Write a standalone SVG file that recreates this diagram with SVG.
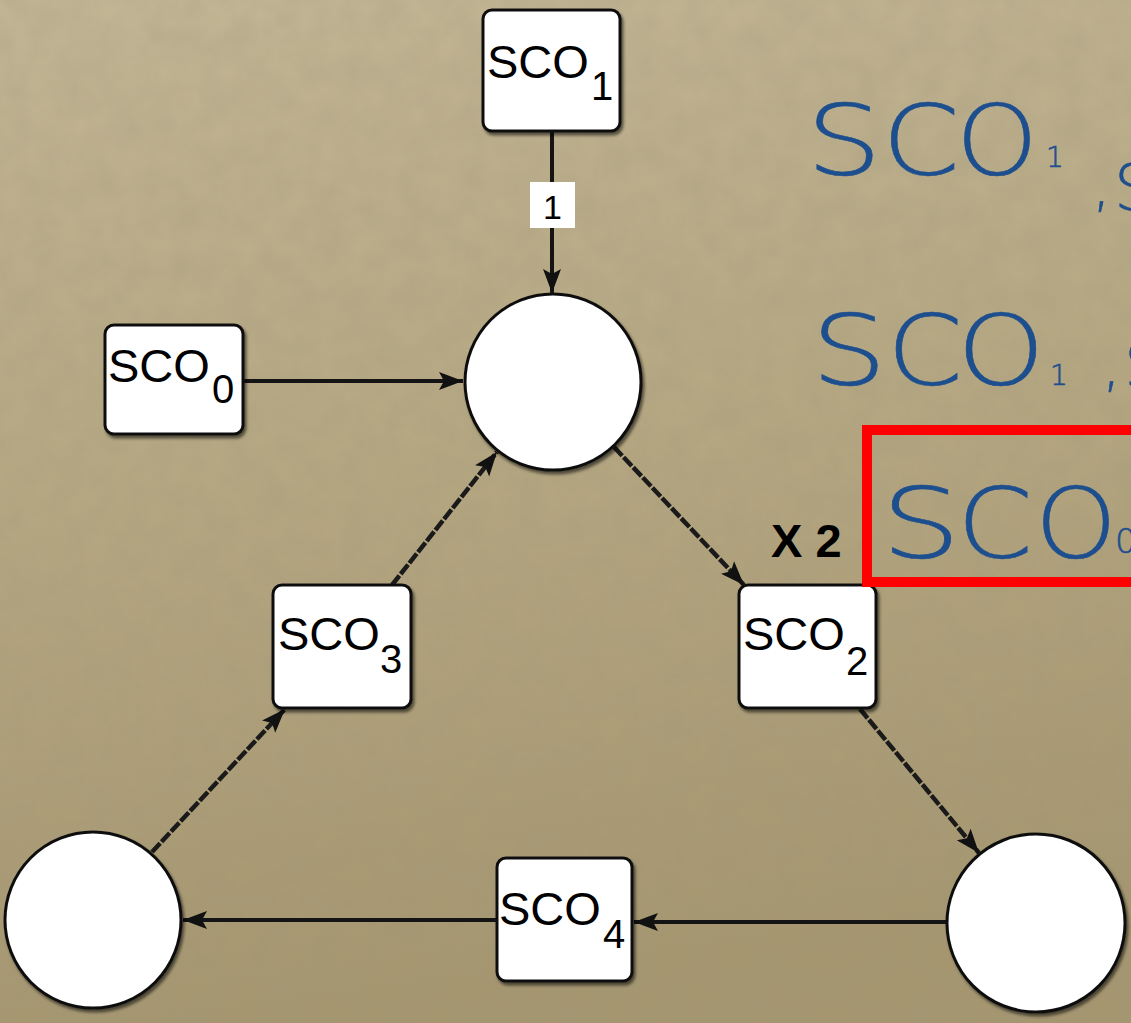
<svg xmlns="http://www.w3.org/2000/svg" width="1131" height="1023" viewBox="0 0 1131 1023">
  <style>
    .box { fill: #ffffff; stroke: #111111; stroke-width: 3; }
    .place { fill: #ffffff; stroke: #111111; stroke-width: 3; }
    .lbl { font-family: "Liberation Sans", Arial, sans-serif; font-size: 47px; fill: #000000; }
    .sub { font-family: "Liberation Sans", Arial, sans-serif; font-size: 40px; fill: #000000; }
    .edge { stroke: #141414; stroke-width: 4; fill: none; }
    .rough { stroke: #1a1a1a; stroke-width: 4.5; fill: none; stroke-dasharray: 12 2; }
    .hand { font-family: "DejaVu Sans", "Lato", sans-serif; font-weight: 200; fill: #1d4e8e; stroke: #1d4e8e; stroke-width: 0.6; }
    .big { font-size: 98px; }
  </style>
  <defs>
    <linearGradient id="paper" x1="0" y1="0" x2="0.15" y2="1">
      <stop offset="0" stop-color="#c3b695"/>
      <stop offset="0.5" stop-color="#b5a781"/>
      <stop offset="1" stop-color="#a5966f"/>
    </linearGradient>
    <filter id="grain" x="0" y="0" width="100%" height="100%">
      <feTurbulence type="fractalNoise" baseFrequency="0.035" numOctaves="3" seed="7" result="n"/>
      <feColorMatrix in="n" type="matrix" values="0 0 0 0 0.35  0 0 0 0 0.3  0 0 0 0 0.2  0 0 0 0.35 -0.05"/>
    </filter>
    <filter id="shade" x="-20%" y="-20%" width="150%" height="150%">
      <feDropShadow dx="2" dy="3" stdDeviation="1.5" flood-color="#000000" flood-opacity="0.55"/>
    </filter>
    <marker id="head" markerUnits="userSpaceOnUse" markerWidth="26" markerHeight="20" refX="24" refY="10" orient="auto">
      <path d="M0,1 L24,10 L0,19 L5,10 z" fill="#111111"/>
    </marker>
  </defs>

  <!-- paper background -->
  <rect width="1131" height="1023" fill="url(#paper)"/>
  <rect width="1131" height="1023" filter="url(#grain)"/>

  <!-- arcs of the net -->
  <g id="connectors">
    <line class="edge" x1="552" y1="131" x2="552" y2="293" marker-end="url(#head)"/>
    <g id="weight-1">
      <rect x="530" y="182" width="45" height="46" fill="#ffffff"/>
      <text x="552.5" y="219" text-anchor="middle" font-family="Liberation Sans, Arial, sans-serif" font-size="34">1</text>
    </g>
    <line class="edge" x1="244" y1="381" x2="463" y2="381" marker-end="url(#head)"/>
    <line class="rough" x1="614" y1="447" x2="744" y2="585" marker-end="url(#head)"/>
    <line class="rough" x1="860" y1="709" x2="979" y2="853" marker-end="url(#head)"/>
    <line class="edge" x1="946" y1="922" x2="634" y2="922" marker-end="url(#head)"/>
    <line class="edge" x1="497" y1="920" x2="183" y2="920" marker-end="url(#head)"/>
    <line class="rough" x1="152" y1="852" x2="285" y2="709" marker-end="url(#head)"/>
    <line class="rough" x1="392" y1="585" x2="497" y2="452" marker-end="url(#head)"/>
  </g>

  <!-- places -->
  <g id="place-top"><circle class="place" cx="553" cy="382" r="88" filter="url(#shade)"/></g>
  <g id="place-left"><circle class="place" cx="93" cy="920" r="88" filter="url(#shade)"/></g>
  <g id="place-right"><circle class="place" cx="1036" cy="923" r="89" filter="url(#shade)"/></g>

  <!-- transitions -->
  <g id="sco1">
    <rect class="box" x="483" y="10" width="137" height="121" rx="9" filter="url(#shade)"/>
    <text class="lbl" x="487" y="78">SCO</text>
    <text class="sub" x="591" y="100" font-size="44">1</text>
  </g>
  <g id="sco0">
    <rect class="box" x="105" y="325" width="138" height="109" rx="9" filter="url(#shade)"/>
    <text class="lbl" x="108" y="382">SCO</text>
    <text class="sub" x="212" y="403">0</text>
  </g>
  <g id="sco3">
    <rect class="box" x="273" y="585" width="138" height="123" rx="9" filter="url(#shade)"/>
    <text class="lbl" x="278" y="650">SCO</text>
    <text class="sub" x="380" y="673">3</text>
  </g>
  <g id="sco2">
    <rect class="box" x="739" y="585" width="137" height="123" rx="9" filter="url(#shade)"/>
    <text class="lbl" x="743" y="650">SCO</text>
    <text class="sub" x="846" y="675">2</text>
  </g>
  <g id="sco4">
    <rect class="box" x="497" y="858" width="135" height="123" rx="9" filter="url(#shade)"/>
    <text class="lbl" x="499" y="925">SCO</text>
    <text class="sub" x="603" y="948">4</text>
  </g>

  <!-- multiplicity mark -->
  <text id="x2" x="771" y="557" font-family="Liberation Sans, Arial, sans-serif" font-weight="bold" font-size="47">X 2</text>

  <!-- handwritten notes: wide, thin capitals -->
  <g id="notes">
    <text class="hand big" y="175"><tspan x="806" textLength="76" lengthAdjust="spacingAndGlyphs">S</tspan></text>
    <text class="hand big" y="175"><tspan x="882" textLength="78" lengthAdjust="spacingAndGlyphs">C</tspan></text>
    <text class="hand big" y="175"><tspan x="956" textLength="82" lengthAdjust="spacingAndGlyphs">O</tspan></text>
    <text class="hand" font-size="28" x="1046" y="167">1</text>
    <text class="hand" font-size="60" x="1092" y="205">,</text>
    <text class="hand" font-size="64" x="1114" y="210">S</text>

    <text class="hand big" y="385"><tspan x="811" textLength="76" lengthAdjust="spacingAndGlyphs">S</tspan></text>
    <text class="hand big" y="385"><tspan x="887" textLength="76" lengthAdjust="spacingAndGlyphs">C</tspan></text>
    <text class="hand big" y="385"><tspan x="957" textLength="88" lengthAdjust="spacingAndGlyphs">O</tspan></text>
    <text class="hand" font-size="28" x="1050" y="385">1</text>
    <text class="hand" font-size="60" x="1102" y="385">,</text>
    <text class="hand" font-size="64" x="1124" y="388">S</text>

    <rect x="867" y="430" width="280" height="152" fill="none" stroke="#ff0000" stroke-width="10"/>
    <text class="hand big" y="558"><tspan x="881" textLength="80" lengthAdjust="spacingAndGlyphs">S</tspan></text>
    <text class="hand big" y="558"><tspan x="957" textLength="76" lengthAdjust="spacingAndGlyphs">C</tspan></text>
    <text class="hand big" y="558"><tspan x="1035" textLength="82" lengthAdjust="spacingAndGlyphs">O</tspan></text>
    <text class="hand" font-size="34" x="1115" y="553">0</text>
  </g>
</svg>
